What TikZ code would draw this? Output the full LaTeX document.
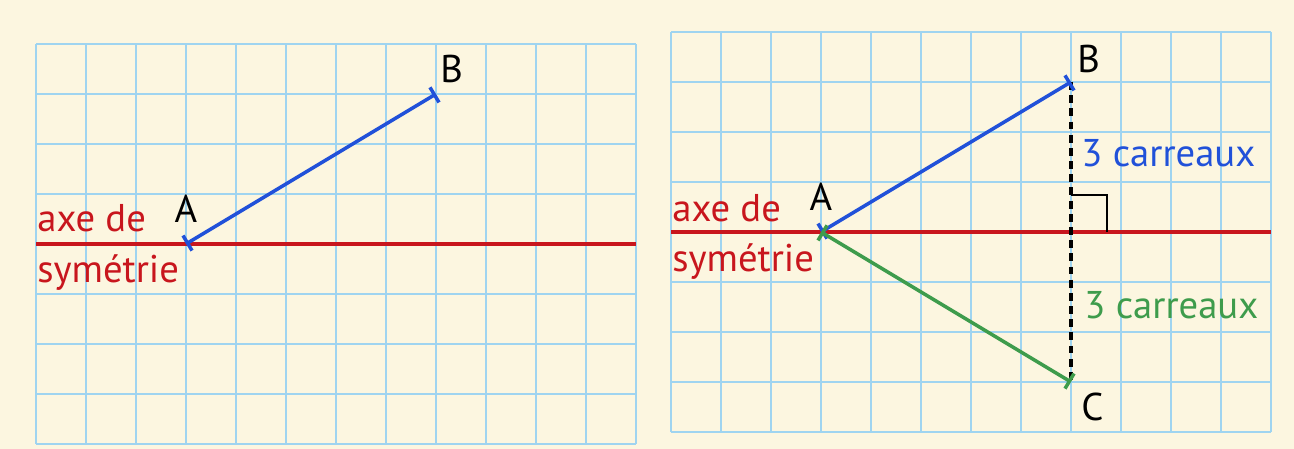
\documentclass[tikz,border=0pt]{standalone}
\usepackage{fontspec}
\setmainfont{PT Sans}
\usetikzlibrary{arrows.meta, positioning}
\definecolor{papier}{HTML}{FCF6E0}
\definecolor{quadrillage}{HTML}{9FD4F0}
\definecolor{axerouge}{HTML}{C8161D}
\definecolor{segbleu}{HTML}{2151D9}
\definecolor{segvert}{HTML}{3E9C4C}

\begin{document}
\begin{tikzpicture}[
      grille/.style={quadrillage, line width=0.8pt},
      axe/.style={axerouge, line width=2.6pt},
      seg/.style={line width=2pt, {Bar[width=10pt]}-{Bar[width=10pt]}},
      perp/.style={black, line width=2pt, dash pattern=on 4.5pt off 3pt},
      lbl/.style={inner sep=0pt, font=\fontsize{22}{26}\selectfont},
      axelbl/.style={lbl, text=axerouge, anchor=base west},
      mesure/.style={lbl, anchor=west}]

    % ── Fond ──
    \fill[papier] (0,0) rectangle (25.88,8.98);
    \useasboundingbox (0,0) rectangle (25.88,8.98);

    % ── Quadrillages ──
    \begin{scope}[shift={(0.72,0.1)}]
      \draw[grille] (0,0) grid (12,8);
    \end{scope}
    \begin{scope}[shift={(13.42,0.34)}]
      \draw[grille] (0,0) grid (12,8);
    \end{scope}

    % ── Points ──
    \coordinate (gAxe0) at (0.72,4.1);
    \coordinate (gAxe1) at (12.72,4.1);
    \coordinate (gA) at (3.72,4.1);
    \coordinate (gB) at (8.72,7.1);
    \coordinate (dAxe0) at (13.42,4.34);
    \coordinate (dAxe1) at (25.42,4.34);
    \coordinate (dA) at (16.42,4.34);
    \coordinate (dB) at (21.42,7.34);
    \coordinate (dC) at (21.42,1.34);
    \coordinate (dH) at (21.42,4.34);

    % ── Figure de gauche ──
    \draw[axe] (gAxe0) -- (gAxe1);
    \draw[seg, segbleu] (gA) -- (gB);
    \node[lbl, above=0.42cm of gA] (lgA) {A};
    \node[lbl, above right=0.22cm and 0.08cm of gB] (lgB) {B};
    \node[axelbl] (axeG) at (0.74,4.34) {axe de};
    \node[axelbl] (symG) at (0.74,3.32) {symétrie};

    % ── Figure de droite ──
    \draw[axe] (dAxe0) -- (dAxe1);
    \draw[perp] (dB) -- (dC);
    \draw[black, line width=1.6pt] (dH) ++(0,0.74) -| ++(0.72,-0.74);
    \draw[seg, segbleu] (dA) -- (dB);
    \draw[seg, segvert] (dA) -- (dC);
    \node[lbl, above=0.42cm of dA] (ldA) {A};
    \node[lbl, above right=0.18cm and 0.12cm of dB] (ldB) {B};
    \node[lbl, below right=0.22cm and 0.2cm of dC] (ldC) {C};
    \node[axelbl] (axeD) at (13.44,4.54) {axe de};
    \node[axelbl] (symD) at (13.44,3.54) {symétrie};
    \node[mesure, text=segbleu] (mesB) at (21.62,5.92) {3 carreaux};
    \node[mesure, text=segvert] (mesC) at (21.68,2.88) {3 carreaux};

  \end{tikzpicture}
\end{document}
